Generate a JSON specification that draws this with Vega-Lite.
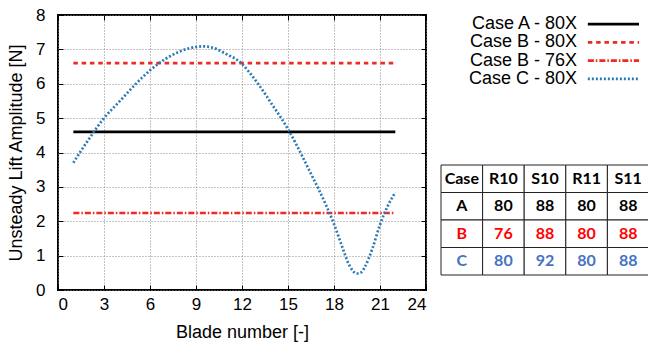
{
  "$schema": "https://vega.github.io/schema/vega-lite/v6.json",
  "padding": {"left": 6, "top": 5, "right": 0, "bottom": 0},
  "config": {
    "font": "Liberation Sans",
    "view": {"stroke": null}
  },
  "datasets": {
    "curves": [
      {"series": "Case A - 80X", "blade": 1, "amp": 4.6},
      {"series": "Case A - 80X", "blade": 22, "amp": 4.6},
      {"series": "Case B - 80X", "blade": 1, "amp": 6.6},
      {"series": "Case B - 80X", "blade": 22, "amp": 6.6},
      {"series": "Case B - 76X", "blade": 1, "amp": 2.24},
      {"series": "Case B - 76X", "blade": 22, "amp": 2.24},
      {"series": "Case C - 80X", "blade": 1.0, "amp": 3.7},
      {"series": "Case C - 80X", "blade": 1.5, "amp": 4.05},
      {"series": "Case C - 80X", "blade": 2.0, "amp": 4.38},
      {"series": "Case C - 80X", "blade": 3.0, "amp": 5.0},
      {"series": "Case C - 80X", "blade": 4.0, "amp": 5.48},
      {"series": "Case C - 80X", "blade": 5.0, "amp": 5.96},
      {"series": "Case C - 80X", "blade": 6.0, "amp": 6.39},
      {"series": "Case C - 80X", "blade": 7.0, "amp": 6.72},
      {"series": "Case C - 80X", "blade": 8.0, "amp": 6.95},
      {"series": "Case C - 80X", "blade": 9.0, "amp": 7.07},
      {"series": "Case C - 80X", "blade": 9.5, "amp": 7.09},
      {"series": "Case C - 80X", "blade": 10.0, "amp": 7.06},
      {"series": "Case C - 80X", "blade": 11.0, "amp": 6.86},
      {"series": "Case C - 80X", "blade": 12.0, "amp": 6.58},
      {"series": "Case C - 80X", "blade": 12.5, "amp": 6.32},
      {"series": "Case C - 80X", "blade": 13.0, "amp": 6.03},
      {"series": "Case C - 80X", "blade": 13.5, "amp": 5.71},
      {"series": "Case C - 80X", "blade": 14.0, "amp": 5.37},
      {"series": "Case C - 80X", "blade": 14.5, "amp": 5.04},
      {"series": "Case C - 80X", "blade": 15.0, "amp": 4.68},
      {"series": "Case C - 80X", "blade": 15.5, "amp": 4.27},
      {"series": "Case C - 80X", "blade": 16.0, "amp": 3.83},
      {"series": "Case C - 80X", "blade": 16.5, "amp": 3.38},
      {"series": "Case C - 80X", "blade": 17.0, "amp": 2.93},
      {"series": "Case C - 80X", "blade": 17.5, "amp": 2.45},
      {"series": "Case C - 80X", "blade": 18.0, "amp": 1.92},
      {"series": "Case C - 80X", "blade": 18.5, "amp": 1.3},
      {"series": "Case C - 80X", "blade": 19.0, "amp": 0.72},
      {"series": "Case C - 80X", "blade": 19.5, "amp": 0.48},
      {"series": "Case C - 80X", "blade": 19.8, "amp": 0.52},
      {"series": "Case C - 80X", "blade": 20.0, "amp": 0.66},
      {"series": "Case C - 80X", "blade": 20.5, "amp": 1.2},
      {"series": "Case C - 80X", "blade": 21.0, "amp": 1.9},
      {"series": "Case C - 80X", "blade": 21.5, "amp": 2.44},
      {"series": "Case C - 80X", "blade": 22.0, "amp": 2.84}
    ],
    "legend": [
      {"series": "Case A - 80X"},
      {"series": "Case B - 80X"},
      {"series": "Case B - 76X"},
      {"series": "Case C - 80X"}
    ],
    "table": [
      {"row": "Case", "col": "Case", "txt": "Case"},
      {"row": "Case", "col": "R10", "txt": "R10"},
      {"row": "Case", "col": "S10", "txt": "S10"},
      {"row": "Case", "col": "R11", "txt": "R11"},
      {"row": "Case", "col": "S11", "txt": "S11"},
      {"row": "A", "col": "Case", "txt": "A"},
      {"row": "A", "col": "R10", "txt": "80"},
      {"row": "A", "col": "S10", "txt": "88"},
      {"row": "A", "col": "R11", "txt": "80"},
      {"row": "A", "col": "S11", "txt": "88"},
      {"row": "B", "col": "Case", "txt": "B"},
      {"row": "B", "col": "R10", "txt": "76"},
      {"row": "B", "col": "S10", "txt": "88"},
      {"row": "B", "col": "R11", "txt": "80"},
      {"row": "B", "col": "S11", "txt": "88"},
      {"row": "C", "col": "Case", "txt": "C"},
      {"row": "C", "col": "R10", "txt": "80"},
      {"row": "C", "col": "S10", "txt": "92"},
      {"row": "C", "col": "R11", "txt": "80"},
      {"row": "C", "col": "S11", "txt": "88"}
    ]
  },
  "spacing": 12,
  "hconcat": [
    {
      "width": 368,
      "height": 275,
      "view": {"stroke": "#000", "strokeWidth": 2},
      "data": {"name": "curves"},
      "resolve": {"axis": {"x": "independent", "y": "independent"}},
      "layer": [
        {
          "mark": {"type": "line", "interpolate": "monotone"},
          "encoding": {
            "x": {
              "field": "blade", "type": "quantitative",
              "scale": {"domain": [0, 24], "nice": false, "zero": false},
              "axis": {
                "values": [0, 3, 6, 9, 12, 15, 18, 21, 24],
                "title": "Blade number [-]",
                "titleFontSize": 18, "titleFontWeight": "normal", "titleColor": "#000", "titlePadding": 11,
                "labelFontSize": 17, "labelColor": "#000", "labelPadding": 11,
                "tickSize": -5, "tickColor": "#000", "tickWidth": 1,
                "domain": false,
                "grid": true, "gridDash": [1, 2], "gridColor": "#888", "gridWidth": 1
              }
            },
            "y": {
              "field": "amp", "type": "quantitative",
              "scale": {"domain": [0, 8], "nice": false},
              "axis": {
                "values": [0, 1, 2, 3, 4, 5, 6, 7, 8],
                "title": "Unsteady Lift Amplitude [N]",
                "titleFontSize": 18, "titleFontWeight": "normal", "titleColor": "#000", "titlePadding": 10,
                "labelFontSize": 17, "labelColor": "#000", "labelPadding": 18,
                "tickSize": -5, "tickColor": "#000", "tickWidth": 1,
                "domain": false,
                "grid": true, "gridDash": [1, 2], "gridColor": "#888", "gridWidth": 1
              }
            },
            "detail": {"field": "series"},
            "color": {
              "field": "series", "type": "nominal", "legend": null,
              "scale": {"domain": ["Case A - 80X", "Case B - 80X", "Case B - 76X", "Case C - 80X"], "range": ["#000000", "#ee2a24", "#ee2a24", "#2a7ab8"]}
            },
            "strokeDash": {
              "field": "series", "type": "nominal", "legend": null,
              "scale": {"domain": ["Case A - 80X", "Case B - 80X", "Case B - 76X", "Case C - 80X"], "range": [[1, 0], [4.5, 3.8], [6, 2, 1.5, 2], [2, 2]]}
            },
            "strokeWidth": {
              "field": "series", "type": "nominal", "legend": null,
              "scale": {"domain": ["Case A - 80X", "Case B - 80X", "Case B - 76X", "Case C - 80X"], "range": [2.7, 2.7, 1.4, 2.6]}
            }
          }
        },
        {
          "mark": {"type": "point", "opacity": 0},
          "encoding": {
            "x": {
              "field": "blade", "type": "quantitative",
              "axis": {"orient": "top", "values": [0, 3, 6, 9, 12, 15, 18, 21, 24], "labels": false, "title": null, "grid": false, "domain": false, "tickSize": -5, "tickColor": "#000", "tickWidth": 1}
            },
            "y": {
              "field": "amp", "type": "quantitative",
              "axis": {"orient": "right", "values": [0, 1, 2, 3, 4, 5, 6, 7, 8], "labels": false, "title": null, "grid": false, "domain": false, "tickSize": -5, "tickColor": "#000", "tickWidth": 1}
            }
          }
        }
      ]
    },
    {
      "spacing": 76,
      "vconcat": [
        {
          "width": 208,
          "height": 73,
          "data": {"name": "legend"},
          "layer": [
            {
              "mark": {"type": "text", "align": "right", "baseline": "middle", "fontSize": 18, "color": "#000"},
              "encoding": {
                "y": {"field": "series", "type": "nominal", "sort": null, "axis": null, "scale": {"paddingInner": 0, "paddingOuter": 0}},
                "x": {"datum": 65.4, "type": "quantitative", "scale": {"domain": [0, 100]}, "axis": null},
                "text": {"field": "series"}
              }
            },
            {
              "mark": {"type": "rule"},
              "encoding": {
                "y": {"field": "series", "type": "nominal", "sort": null, "axis": null},
                "x": {"datum": 70.6, "type": "quantitative", "axis": null},
                "x2": {"datum": 95.2},
                "color": {
                  "field": "series", "type": "nominal", "legend": null,
                  "scale": {"domain": ["Case A - 80X", "Case B - 80X", "Case B - 76X", "Case C - 80X"], "range": ["#000000", "#ee2a24", "#ee2a24", "#2a7ab8"]}
                },
                "strokeDash": {
                  "field": "series", "type": "nominal", "legend": null,
                  "scale": {"domain": ["Case A - 80X", "Case B - 80X", "Case B - 76X", "Case C - 80X"], "range": [[1, 0], [4.5, 3.8], [6, 2, 1.5, 2], [2, 2]]}
                },
                "strokeWidth": {
                  "field": "series", "type": "nominal", "legend": null,
                  "scale": {"domain": ["Case A - 80X", "Case B - 80X", "Case B - 76X", "Case C - 80X"], "range": [2.7, 2.7, 1.4, 2.6]}
                }
              }
            }
          ]
        },
        {
          "width": 208,
          "height": 110,
          "data": {"name": "table"},
          "encoding": {
            "x": {"field": "col", "type": "nominal", "sort": ["Case", "R10", "S10", "R11", "S11"], "axis": null, "scale": {"paddingInner": 0, "paddingOuter": 0}},
            "y": {"field": "row", "type": "nominal", "sort": ["Case", "A", "B", "C"], "axis": null, "scale": {"paddingInner": 0, "paddingOuter": 0}}
          },
          "layer": [
            {"mark": {"type": "rect", "fill": "#ffffff", "stroke": "#222222", "strokeWidth": 1}},
            {
              "mark": {"type": "text", "font": "Lato", "fontWeight": "bold", "fontSize": 16, "baseline": "middle"},
              "encoding": {
                "text": {"field": "txt"},
                "fill": {"field": "row", "type": "nominal", "legend": null,
                  "scale": {"domain": ["Case", "A", "B", "C"], "range": ["#000000", "#000000", "#ff0000", "#4472c4"]}}
              }
            }
          ]
        }
      ]
    }
  ]
}
